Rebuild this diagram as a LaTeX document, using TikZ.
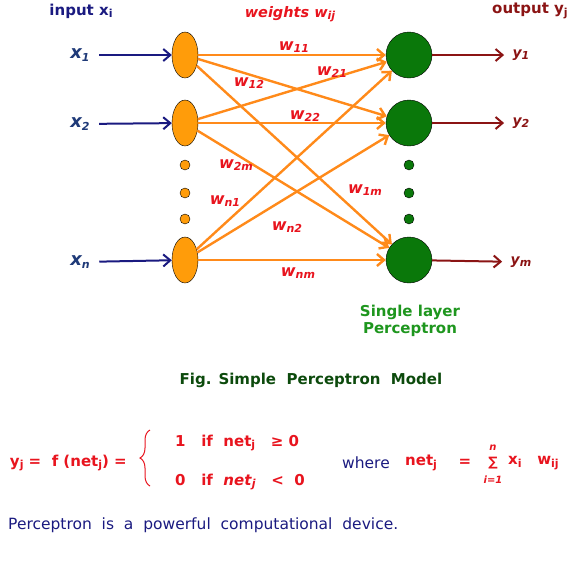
\documentclass[tikz,border=0pt]{standalone}
\usepackage{fontspec}
\setmainfont{DejaVu Sans}
\usepackage{tikz}
\usetikzlibrary{arrows.meta, shapes.geometric, decorations.pathreplacing}
\definecolor{navyblue}{HTML}{1A1A80}
\definecolor{xblue}{HTML}{1F3A78}
\definecolor{darkred}{HTML}{8B1414}
\definecolor{wred}{HTML}{E8141E}
\definecolor{lineorange}{HTML}{FF8A1A}
\definecolor{nodeorange}{HTML}{FF9C0A}
\definecolor{nodegreen}{HTML}{0A780A}
\definecolor{labelgreen}{HTML}{1E961E}
\definecolor{capgreen}{HTML}{0C4A0C}
\newcommand{\idx}[1]{\raisebox{-0.3ex}{\fontsize{11}{11}\selectfont #1}}

\begin{document}
\begin{tikzpicture}[x=1pt, y=-1pt,
  inp/.style={ellipse, draw=black, fill=nodeorange, minimum width=26pt,
              minimum height=46pt, inner sep=0pt},
  outp/.style={circle, draw=black, fill=nodegreen, minimum size=46pt, inner sep=0pt},
  idot/.style={circle, draw=black, fill=nodeorange, minimum size=10pt, inner sep=0pt},
  odot/.style={circle, draw=black, fill=nodegreen, minimum size=10pt, inner sep=0pt},
  warr/.style={-{Straight Barb[length=7pt, width=12pt]}, line width=2.4pt, draw=lineorange},
  xarr/.style={-{Straight Barb[length=7pt, width=12pt]}, line width=2pt, draw=navyblue,
               shorten <=6pt},
  yarr/.style={-{Straight Barb[length=7pt, width=12pt]}, line width=2pt, draw=darkred,
               shorten >=5pt},
  wlab/.style={font=\fontsize{16}{16}\selectfont\bfseries\itshape, text=wred},
  xlab/.style={font=\fontsize{18}{18}\selectfont\bfseries\itshape, text=xblue},
  ylab/.style={font=\fontsize{14}{14}\selectfont\bfseries\itshape, text=darkred},
  head/.style={font=\fontsize{15}{15}\selectfont\bfseries},
  eq/.style={font=\fontsize{15}{15}\selectfont\bfseries, text=wred, inner sep=0pt},
  plain/.style={font=\fontsize{15.5}{15.5}\selectfont, text=navyblue, inner sep=0pt}
]
\useasboundingbox (0,0) rectangle (570,582);

% headings
\node[head, text=navyblue] (hin)  at (81,11)  {input x\idx{i}};
\node[head, text=wred, font=\fontsize{14.5}{14.5}\selectfont\bfseries\itshape]
  (hw) at (290,14) {weights w\idx{ij}};
\node[head, text=darkred] (hout) at (530,11) {output y\idx{j}};

% input layer
\node[inp] (in1) at (185,55)  {};
\node[inp] (in2) at (185,123) {};
\node[inp] (inn) at (185,260) {};
\node[idot] (id1) at (185,165) {};
\node[idot] (id2) at (185,193) {};
\node[idot] (id3) at (185,219) {};

% output layer
\node[outp] (out1) at (409,55)  {};
\node[outp] (out2) at (409,123) {};
\node[outp] (outm) at (409,260) {};
\node[odot] (od1) at (409,165) {};
\node[odot] (od2) at (409,193) {};
\node[odot] (od3) at (409,219) {};

% inputs and outputs
\node[xlab] (lx1) at (80,55)  {x\idx{1}};
\node[xlab] (lx2) at (80,124) {x\idx{2}};
\node[xlab] (lxn) at (80,262) {x\idx{n}};
\draw[xarr] (lx1) -- (in1);
\draw[xarr] (lx2) -- (in2);
\draw[xarr] (lxn) -- (inn);

\node[ylab] (ly1) at (521,55)  {y\idx{1}};
\node[ylab] (ly2) at (521,123) {y\idx{2}};
\node[ylab] (lym) at (521,262) {y\idx{m}};
\draw[yarr] (out1) -- (ly1);
\draw[yarr] (out2) -- (ly2);
\draw[yarr] (outm) -- (lym);

% weights
\draw[warr] (in1) -- (out1);
\draw[warr] (in1) -- (out2);
\draw[warr] (in1) -- (outm);
\draw[warr] (in2) -- (out1);
\draw[warr] (in2) -- (out2);
\draw[warr] (in2) -- (outm);
\draw[warr] (inn) -- (out1);
\draw[warr] (inn) -- (out2);
\draw[warr] (inn) -- (outm);

\node[wlab] (w11) at (294,47)  {w\idx{11}};
\node[wlab] (w21) at (332,72)  {w\idx{21}};
\node[wlab] (w12) at (249,83)  {w\idx{12}};
\node[wlab] (w22) at (305,116) {w\idx{22}};
\node[wlab] (w2m) at (236,165) {w\idx{2m}};
\node[wlab] (wn1) at (225,201) {w\idx{n1}};
\node[wlab] (w1m) at (365,190) {w\idx{1m}};
\node[wlab] (wn2) at (287,227) {w\idx{n2}};
\node[wlab] (wnm) at (298,273) {w\idx{nm}};

% captions
\node[head, text=labelgreen, align=center] (slp) at (410,321)
  {Single layer\\[2pt]Perceptron};
\node[head, text=capgreen] (fig) at (311,380) {Fig. Simple\ \ Perceptron\ \ Model};

% activation
\node[eq, anchor=east] (fdef) at (127,463) {y\idx{j} =\ \ f (net\idx{j}) =};
\draw[wred, line width=1pt, decorate, decoration={brace, amplitude=10pt}]
  (150,486) -- (150,430);
\node[eq, anchor=west] (case1) at (175,443) {1\ \ \ if\ \ net\idx{j}\ \ \ ≥ 0};
\node[eq, anchor=west] (case0) at (175,482)
  {0\ \ \ if\ \ \textit{net}\idx{\textit{j}}\ \ \ <\ \ 0};

\node[plain, anchor=west] (where) at (342,463) {where};
\node[eq, anchor=west] (netj) at (405,463) {net\idx{j}};
\node[eq] (eqs) at (465,463) {=};
\node[eq, font=\fontsize{13}{13}\selectfont\bfseries] (sig) at (493,463) {∑};
\node[eq, font=\fontsize{10}{10}\selectfont\bfseries\itshape] (nup) at (493,448) {n};
\node[eq, font=\fontsize{10}{10}\selectfont\bfseries\itshape] (ilo) at (493,480) {i=1};
\node[eq, anchor=west] (xw) at (508,463) {x\idx{i}\ \ \ w\idx{ij}};

\node[plain, anchor=west] (note) at (8,525)
  {Perceptron\ \ is\ \ a\ \ powerful\ \ computational\ \ device.};
\end{tikzpicture}
\end{document}
